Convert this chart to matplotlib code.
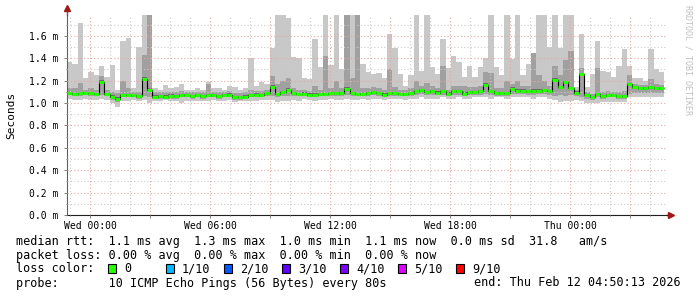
import numpy as np
import matplotlib
matplotlib.use('Agg')
import matplotlib.pyplot as plt
from matplotlib.patches import Rectangle

# 16 minute bins, hours relative to Wed 00:00
bin_hours = 16 / 60
start_hour = -70 / 60

# median rtt per bin (ms)
med = [1.09, 1.08, 1.086, 1.09, 1.086, 1.08, 1.19, 1.08, 1.057, 1.04,
       1.068, 1.068, 1.068, 1.06, 1.217, 1.12, 1.057, 1.063, 1.057, 1.065,
       1.063, 1.068, 1.068, 1.06, 1.068, 1.06, 1.068, 1.068, 1.06, 1.068,
       1.074, 1.054, 1.054, 1.057, 1.068, 1.074, 1.068, 1.089, 1.146, 1.08,
       1.098, 1.119, 1.089, 1.08, 1.083, 1.074, 1.074, 1.08, 1.08, 1.089,
       1.089, 1.086, 1.128, 1.086, 1.08, 1.08, 1.089, 1.098, 1.089, 1.074,
       1.089, 1.089, 1.08, 1.08, 1.089, 1.104, 1.113, 1.098, 1.104, 1.092,
       1.104, 1.083, 1.104, 1.104, 1.083, 1.098, 1.098, 1.104, 1.164, 1.104,
       1.089, 1.089, 1.089, 1.128, 1.11, 1.11, 1.104, 1.11, 1.11, 1.116,
       1.104, 1.208, 1.14, 1.188, 1.134, 1.092, 1.259, 1.07, 1.05, 1.08,
       1.06, 1.07, 1.07, 1.06, 1.06, 1.17, 1.14, 1.13, 1.13, 1.14,
       1.13, 1.13]

# highest ping per bin (light smoke top)
hi = [1.37, 1.35, 1.71, 1.22, 1.28, 1.25, 1.33, 1.23, 1.34, 1.12,
      1.55, 1.58, 1.13, 1.50, 1.79, 1.79, 1.13, 1.12, 1.16, 1.13,
      1.14, 1.17, 1.12, 1.12, 1.13, 1.12, 1.19, 1.13, 1.13, 1.12,
      1.155, 1.14, 1.12, 1.135, 1.40, 1.15, 1.19, 1.17, 1.49, 1.79,
      1.79, 1.76, 1.41, 1.40, 1.22, 1.21, 1.57, 1.32, 1.79, 1.34,
      1.79, 1.30, 1.79, 1.79, 1.79, 1.35, 1.28, 1.26, 1.27, 1.22,
      1.62, 1.49, 1.26, 1.15, 1.25, 1.79, 1.29, 1.79, 1.32, 1.26,
      1.57, 1.31, 1.42, 1.37, 1.23, 1.33, 1.23, 1.32, 1.40, 1.79,
      1.32, 1.25, 1.79, 1.39, 1.79, 1.25, 1.35, 1.45, 1.79, 1.79,
      1.50, 1.79, 1.49, 1.79, 1.79, 1.14, 1.62, 1.14, 1.26, 1.55,
      1.29, 1.28, 1.23, 1.33, 1.48, 1.33, 1.22, 1.22, 1.20, 1.48,
      1.30, 1.28]

# upper edge of the medium smoke
hi2 = [1.13, 1.13, 1.18, 1.12, 1.13, 1.12, 1.24, 1.12, 1.10, 1.09,
       1.20, 1.13, 1.10, 1.10, 1.43, 1.79, 1.10, 1.10, 1.10, 1.10,
       1.10, 1.11, 1.10, 1.10, 1.10, 1.10, 1.17, 1.10, 1.10, 1.10,
       1.11, 1.09, 1.09, 1.10, 1.12, 1.11, 1.11, 1.12, 1.24, 1.17,
       1.20, 1.22, 1.13, 1.12, 1.12, 1.11, 1.15, 1.12, 1.42, 1.13,
       1.20, 1.13, 1.79, 1.22, 1.79, 1.13, 1.13, 1.14, 1.13, 1.12,
       1.30, 1.14, 1.12, 1.12, 1.13, 1.20, 1.15, 1.18, 1.15, 1.13,
       1.33, 1.12, 1.15, 1.15, 1.15, 1.14, 1.14, 1.15, 1.28, 1.27,
       1.13, 1.13, 1.20, 1.17, 1.20, 1.15, 1.15, 1.45, 1.25, 1.20,
       1.15, 1.33, 1.25, 1.38, 1.46, 1.12, 1.31, 1.10, 1.08, 1.31,
       1.10, 1.11, 1.10, 1.10, 1.11, 1.25, 1.17, 1.16, 1.16, 1.21,
       1.17, 1.16]

# lowest ping per bin
lo = [1.04, 1.03, 1.03, 1.04, 1.03, 1.03, 1.04, 1.03, 1.00, 0.96,
      1.02, 1.02, 1.03, 1.02, 1.03, 1.00, 1.02, 1.02, 1.03, 1.02,
      1.02, 1.00, 1.02, 1.02, 1.02, 1.02, 1.02, 1.03, 1.02, 1.02,
      1.03, 1.01, 1.02, 1.02, 1.02, 1.02, 1.03, 1.03, 1.03, 1.01,
      1.02, 1.02, 1.03, 1.02, 1.04, 1.03, 1.02, 1.03, 1.03, 1.04,
      1.03, 1.03, 1.04, 1.03, 1.03, 1.04, 1.03, 1.04, 1.04, 1.03,
      1.04, 1.04, 1.04, 1.03, 1.04, 1.04, 1.05, 1.04, 1.04, 1.04,
      1.05, 1.04, 1.04, 1.05, 1.04, 1.04, 1.05, 1.05, 1.05, 1.04,
      1.05, 1.05, 1.04, 1.05, 1.05, 1.05, 1.05, 1.04, 1.05, 1.05,
      1.04, 1.03, 1.01, 1.02, 1.02, 1.03, 1.02, 1.00, 1.00, 1.00,
      1.01, 1.01, 1.01, 1.01, 1.01, 1.05, 1.05, 1.05, 1.05, 1.05,
      1.05, 1.05]

# lower edge of the medium smoke
lo2 = [1.07, 1.06, 1.06, 1.07, 1.06, 1.06, 1.07, 1.06, 1.03, 1.01,
       1.05, 1.05, 1.05, 1.04, 1.06, 1.05, 1.04, 1.04, 1.04, 1.04,
       1.04, 1.05, 1.05, 1.04, 1.05, 1.04, 1.05, 1.05, 1.04, 1.05,
       1.05, 1.03, 1.03, 1.04, 1.05, 1.05, 1.05, 1.06, 1.06, 1.05,
       1.06, 1.06, 1.06, 1.06, 1.06, 1.05, 1.05, 1.06, 1.06, 1.06,
       1.06, 1.06, 1.07, 1.06, 1.06, 1.06, 1.06, 1.07, 1.06, 1.05,
       1.06, 1.06, 1.06, 1.06, 1.06, 1.07, 1.08, 1.07, 1.07, 1.07,
       1.07, 1.06, 1.07, 1.07, 1.06, 1.07, 1.07, 1.07, 1.08, 1.07,
       1.06, 1.06, 1.06, 1.08, 1.08, 1.08, 1.07, 1.07, 1.08, 1.08,
       1.07, 1.06, 1.07, 1.06, 1.07, 1.06, 1.05, 1.04, 1.03, 1.05,
       1.04, 1.05, 1.05, 1.04, 1.04, 1.08, 1.09, 1.09, 1.09, 1.09,
       1.09, 1.09]

x_ticks = [0, 6, 12, 18, 24]
x_labels = ['Wed 00:00', 'Wed 06:00', 'Wed 12:00', 'Wed 18:00', 'Thu 00:00']
y_ticks = [0.0, 0.2, 0.4, 0.6, 0.8, 1.0, 1.2, 1.4, 1.6]

loss_labels = ['0', '1/10', '2/10', '3/10', '4/10', '5/10', '9/10']
loss_colors = ['#26ff00', '#00b8ff', '#0059ff', '#5e00ff', '#7e00ff', '#dd00ff', '#ff0000']

legend_lines = [
    'median rtt:  1.1 ms avg  1.3 ms max  1.0 ms min  1.1 ms now  0.0 ms sd  31.8   am/s',
    'packet loss: 0.00 % avg  0.00 % max  0.00 % min  0.00 % now',
    'loss color:',
    'probe:       10 ICMP Echo Pings (56 Bytes) every 80s',
]
end_text = 'end: Thu Feb 12 04:50:13 2026'

W, H = 697, 297
MONO = 'DejaVu Sans Mono'


def fx(px):
    return px / W


def fy(py):
    return 1 - py / H


def main():
    fig = plt.figure(figsize=(W / 100, H / 100), dpi=100)
    ax = fig.add_axes([fx(67), fy(215), 600 / W, (215 - 14.5) / H])

    edges = start_hour + bin_hours * np.arange(len(med) + 1)
    m = np.array(med)

    # smoke
    ax.stairs(hi, edges, baseline=lo, fill=True, color='#c8c8c8', lw=0, zorder=1)
    ax.stairs(hi2, edges, baseline=lo2, fill=True, color='#a0a0a0', lw=0, zorder=1.1)
    ax.stairs(m + 0.012, edges, baseline=m - 0.012, fill=True, color='#6a6a6a', lw=0, zorder=1.2)

    # median line
    ax.stairs(med, edges, baseline=None, color='black', lw=0.8, zorder=3)
    ax.hlines(med, edges[:-1], edges[1:], color='#26ff00', lw=2.2, capstyle='butt', zorder=4)

    ax.set_xlim(start_hour, start_hour + 30)
    ax.set_ylim(0, 1.79)

    ax.set_xticks(np.arange(0, 29, 3))
    ax.set_xticklabels([x_labels[x_ticks.index(t)] if t in x_ticks else '' for t in range(0, 29, 3)])
    ax.set_xticks(np.arange(-1, 29, 1), minor=True)
    ax.set_yticks(y_ticks)
    ax.set_yticklabels(['%.1f m' % v for v in y_ticks])
    ax.set_yticks(np.arange(0.1, 1.75, 0.2), minor=True)

    ax.grid(which='major', color='#e6a8a8', linestyle=(0, (1, 2)), lw=0.8)
    ax.grid(which='minor', color='#cccccc', linestyle=(0, (1, 2)), lw=0.8)
    ax.set_axisbelow(False)

    ax.tick_params(which='both', labelsize=7, colors='#808080', labelcolor='black', length=2, width=0.7)
    ax.tick_params(which='minor', length=1)
    ax.tick_params(axis='y', pad=4)
    ax.tick_params(axis='x', pad=2)
    for lab in ax.get_xticklabels() + ax.get_yticklabels():
        lab.set_family(MONO)

    for s in ['top', 'right']:
        ax.spines[s].set_visible(False)
    ax.spines['left'].set_color('#606060')
    ax.spines['bottom'].set_color('#202020')

    # axis arrows
    ax.plot([0, 0], [1, 1.025], transform=ax.transAxes, color='#606060', lw=1, clip_on=False)
    ax.plot([0], [1.03], transform=ax.transAxes, marker='^', ms=4, color='#a01818', clip_on=False)
    ax.plot([1, 1.006], [0, 0], transform=ax.transAxes, color='#202020', lw=1, clip_on=False)
    ax.plot([1.007], [0], transform=ax.transAxes, marker='>', ms=4, color='#a01818', clip_on=False)

    fig.text(fx(11), fy(115), 'Seconds', rotation=90, ha='center', va='center',
             family=MONO, fontsize=8)
    fig.text(fx(688), fy(5), 'RRDTOOL / TOBI OETIKER', rotation=-90, ha='center', va='top',
             family=MONO, fontsize=6, color='#c0c0c0')

    for i, line in enumerate(legend_lines):
        fig.text(fx(16), fy(241 + 14 * i), line, ha='left', va='center',
                 family=MONO, fontsize=8.5)
    fig.text(fx(681), fy(283), end_text, ha='right', va='center', family=MONO, fontsize=8.5)

    for i, (lab, col) in enumerate(zip(loss_labels, loss_colors)):
        x0 = 108 + 58 * i
        fig.add_artist(Rectangle((fx(x0), fy(273)), 8 / W, 9 / H, transform=fig.transFigure,
                                 facecolor=col, edgecolor='black', lw=0.8))
        fig.text(fx(x0 + 16), fy(269), lab, ha='left', va='center', family=MONO, fontsize=8.5)

    fig.savefig('out.png', dpi=100, facecolor='white')


main()
